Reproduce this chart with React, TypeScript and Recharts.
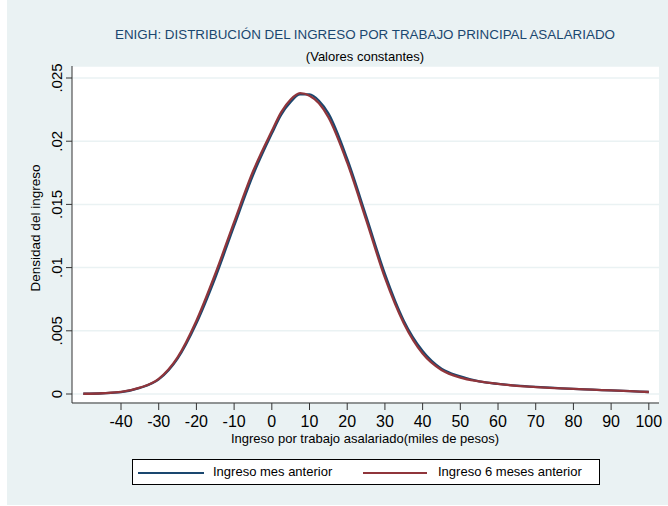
import {CartesianGrid, Line, LineChart, XAxis, YAxis} from 'recharts';

const incomeX = [-50, -45, -40, -35, -30, -25, -20, -15, -10, -5, 0, 2.5, 5, 7.5, 10, 12.5, 15, 20, 25, 30, 35, 40, 45, 50, 55, 60, 65, 70, 75, 80, 85, 90, 95, 100];
const mesAnterior = [0.00002, 0.00006, 0.00015, 0.00048, 0.00115, 0.0028, 0.0056, 0.0092, 0.0133, 0.0173, 0.0206, 0.0221, 0.0231, 0.0237, 0.0237, 0.0232, 0.0222, 0.0186, 0.0141, 0.0095, 0.0058, 0.0034, 0.002, 0.0014, 0.001, 0.0008, 0.00066, 0.00056, 0.00048, 0.0004, 0.00034, 0.00028, 0.00022, 0.00016];
const seisMeses = [0.00002, 0.00006, 0.00016, 0.0005, 0.0012, 0.0029, 0.0058, 0.0095, 0.0136, 0.0176, 0.0208, 0.0223, 0.0233, 0.0238, 0.0236, 0.0230, 0.0219, 0.0183, 0.0138, 0.0092, 0.0056, 0.0032, 0.0019, 0.0013, 0.001, 0.0008, 0.00065, 0.00055, 0.00047, 0.0004, 0.00034, 0.00028, 0.00022, 0.00016];
const xTicks = [-40, -30, -20, -10, 0, 10, 20, 30, 40, 50, 60, 70, 80, 90, 100];
const yTicks = [0, 0.005, 0.01, 0.015, 0.02, 0.025];
const yTickLabels = ['0', '.005', '.01', '.015', '.02', '.025'];

const data = incomeX.map((x, i) => ({x, mes: mesAnterior[i], seis: seisMeses[i]}));

const FONT = '"Liberation Sans", Arial, sans-serif';
const BG = '#eaf2f3';
const BLUE = '#1a476f';
const RED = '#90353b';

const YTick = (props: any) => {
    const {x, y, payload} = props;
    const label = yTickLabels[yTicks.indexOf(payload.value)] ?? String(payload.value);
    const bx = x - 2;
    return (
        <text x={bx} y={y} transform={`rotate(-90, ${bx}, ${y})`} textAnchor="middle"
              fontSize={15} fill="#000" fontFamily={FONT}>{label}</text>
    );
};

const XTick = (props: any) => {
    const {x, y, payload} = props;
    return (
        <text x={x} y={y} dy={15} textAnchor="middle" fontSize={16} fill="#000" fontFamily={FONT}>
            {payload.value}
        </text>
    );
};

export default function App() {
    return (
        <div style={{position: 'absolute', left: 0, top: 0, width: 668, height: 506, background: '#fff'}}>
            <style>{'body{margin:0}'}</style>
            <div style={{position: 'absolute', left: 7, top: 0, width: 661, height: 505, background: BG, fontFamily: FONT}}>
                <LineChart width={661} height={505} data={data}
                           margin={{top: 66, right: 9, bottom: 62, left: 15}}>
                    <CartesianGrid vertical={false} stroke={BG} strokeWidth={1.5} fill="#fff"/>
                    <XAxis dataKey="x" type="number" domain={[-53, 102.7]} allowDataOverflow ticks={xTicks}
                           interval={0} height={40} stroke="#333" tickSize={7} tick={<XTick/>}
                           tickLine={{stroke: '#333'}}/>
                    <YAxis type="number" domain={[-0.000712, 0.02595]} allowDataOverflow ticks={yTicks}
                           interval={0} width={50} stroke="#333" tickSize={6} tick={<YTick/>}/>
                    <Line type="monotone" dataKey="mes" stroke={BLUE} strokeWidth={2.3} dot={false}
                          isAnimationActive={false}/>
                    <Line type="monotone" dataKey="seis" stroke={RED} strokeWidth={2.3} dot={false}
                          isAnimationActive={false}/>
                </LineChart>
                <div style={{position: 'absolute', left: 0, width: 716, top: 26, lineHeight: '18px', fontSize: 13.4,
                    color: BLUE, textAlign: 'center', whiteSpace: 'nowrap'}}>
                    ENIGH: DISTRIBUCIÓN DEL INGRESO POR TRABAJO PRINCIPAL ASALARIADO
                </div>
                <div style={{position: 'absolute', left: 0, width: 716, top: 48, lineHeight: '18px', fontSize: 13,
                    color: '#000', textAlign: 'center'}}>
                    (Valores constantes)
                </div>
                <div style={{position: 'absolute', left: 0, width: 716, top: 430, lineHeight: '18px', fontSize: 13,
                    color: '#000', textAlign: 'center'}}>
                    Ingreso por trabajo asalariado(miles de pesos)
                </div>
                <div style={{position: 'absolute', left: 29 - 100, top: 220, width: 200, lineHeight: '16px',
                    fontSize: 13.5, color: '#000', textAlign: 'center', transform: 'rotate(-90deg)'}}>
                    Densidad del ingreso
                </div>
                <div style={{position: 'absolute', left: 125, top: 459, width: 466, height: 24, background: '#fff',
                    border: '1px solid #000', fontSize: 13, color: '#000'}}>
                    <div style={{position: 'absolute', left: 5, top: 12, width: 66, height: 2, background: BLUE}}/>
                    <div style={{position: 'absolute', left: 80, top: 4, lineHeight: '16px'}}>Ingreso mes anterior</div>
                    <div style={{position: 'absolute', left: 230, top: 12, width: 64, height: 2, background: RED}}/>
                    <div style={{position: 'absolute', left: 305, top: 4, lineHeight: '16px'}}>Ingreso 6 meses anterior</div>
                </div>
            </div>
        </div>
    );
}
